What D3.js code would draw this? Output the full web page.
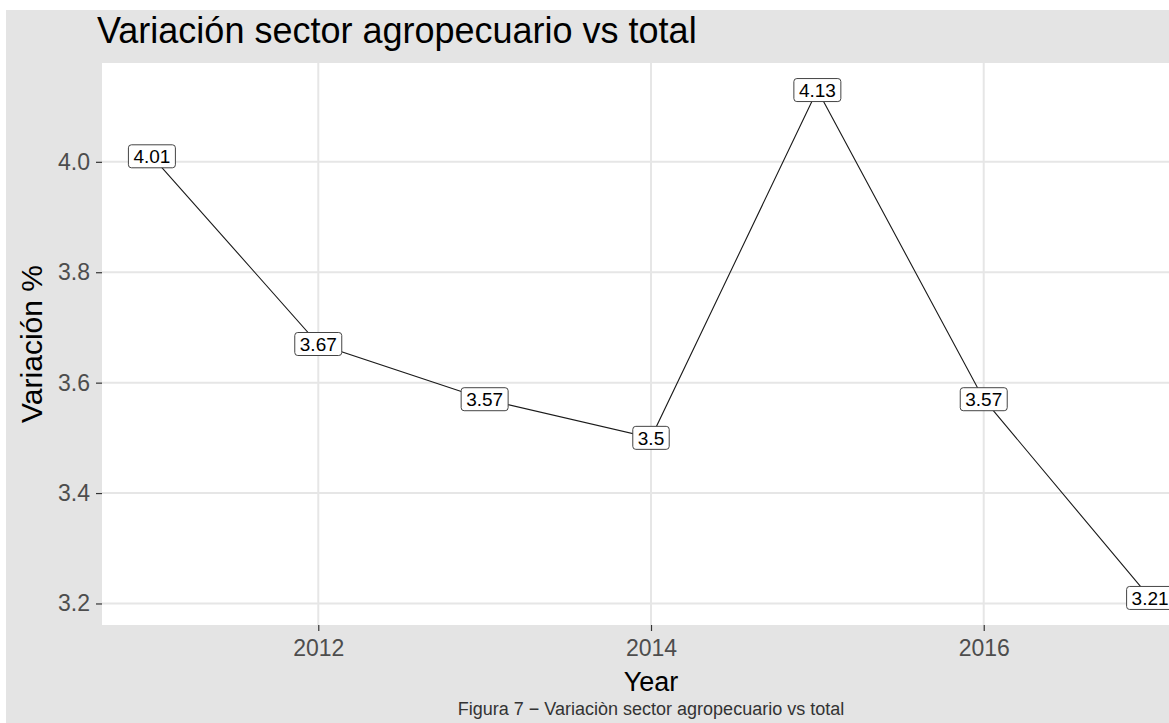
<!DOCTYPE html>
<html>
<head>
<meta charset="utf-8">
<script src="https://cdn.jsdelivr.net/npm/d3@7"></script>
<style>
  body { margin: 0; background: #fff; }
  text { font-family: Arial, "Liberation Sans", sans-serif; }
</style>
</head>
<body>
<div id="chart"></div>
<script>
// data
const years = [2011, 2012, 2013, 2014, 2015, 2016, 2017];
const variacion = [4.01, 3.67, 3.57, 3.5, 4.13, 3.57, 3.21];
const labels = ["4.01", "3.67", "3.57", "3.5", "4.13", "3.57", "3.21"];
const xTicks = [2012, 2014, 2016];
const yTicks = [3.2, 3.4, 3.6, 3.8, 4.0];

const width = 1169, height = 723;
// panel runs off the right edge of the image, like the original
const panel = { left: 102, right: 1200, top: 63, bottom: 625 };

const svg = d3.select("#chart")
  .append("svg")
    .attr("width", width)
    .attr("height", height);

// grey plot background
svg.append("rect")
  .attr("x", 6).attr("y", 10)
  .attr("width", width - 6).attr("height", height - 10)
  .attr("fill", "#e4e4e4");

const x = d3.scaleLinear().domain([2010.7, 2017.3]).range([panel.left, panel.right]);
const y = d3.scaleLinear().domain([3.161, 4.179]).range([panel.bottom, panel.top]);

// white panel
svg.append("rect")
  .attr("x", panel.left).attr("y", panel.top)
  .attr("width", panel.right - panel.left)
  .attr("height", panel.bottom - panel.top)
  .attr("fill", "#fff");

// grid
svg.append("g")
  .selectAll("line")
  .data(yTicks)
  .join("line")
    .attr("x1", panel.left).attr("x2", panel.right)
    .attr("y1", d => y(d)).attr("y2", d => y(d))
    .attr("stroke", "#e6e6e6")
    .attr("stroke-width", 2);

svg.append("g")
  .selectAll("line")
  .data(xTicks)
  .join("line")
    .attr("y1", panel.top).attr("y2", panel.bottom)
    .attr("x1", d => x(d)).attr("x2", d => x(d))
    .attr("stroke", "#e6e6e6")
    .attr("stroke-width", 2);

// axes
const xAxis = svg.append("g")
  .attr("transform", `translate(0,${panel.bottom})`)
  .call(d3.axisBottom(x).tickValues(xTicks).tickFormat(d3.format("d")).tickSize(6).tickPadding(5));
const yAxis = svg.append("g")
  .attr("transform", `translate(${panel.left},0)`)
  .call(d3.axisLeft(y).tickValues(yTicks).tickFormat(d3.format(".1f")).tickSize(6).tickPadding(6));

[xAxis, yAxis].forEach(g => {
  g.select(".domain").remove();
  g.selectAll(".tick line").attr("stroke", "#333").attr("stroke-width", 1.2);
  g.selectAll(".tick text")
    .attr("fill", "#4d4d4d")
    .style("font-size", "23px")
    .style("font-family", "Arial, 'Liberation Sans', sans-serif");
});
xAxis.selectAll(".tick text").attr("dy", "0.85em");

// line
const line = d3.line()
  .x((d, i) => x(years[i]))
  .y(d => y(d));

svg.append("path")
  .datum(variacion)
  .attr("d", line)
  .attr("fill", "none")
  .attr("stroke", "#1a1a1a")
  .attr("stroke-width", 1.1);

// boxed labels (geom_label style)
const lab = svg.append("g")
  .selectAll("g")
  .data(variacion)
  .join("g")
    .attr("transform", (d, i) => `translate(${x(years[i])},${y(d)})`);

lab.append("rect").attr("class", "box");
lab.append("text")
  .attr("text-anchor", "middle")
  .attr("dy", "0.36em")
  .style("font-size", "19px")
  .attr("fill", "#000")
  .text((d, i) => labels[i]);

lab.each(function () {
  const g = d3.select(this);
  const bb = g.select("text").node().getBBox();
  const padX = 5, h = 23;
  g.select("rect")
    .attr("x", -bb.width / 2 - padX)
    .attr("y", -h / 2)
    .attr("width", bb.width + padX * 2)
    .attr("height", h)
    .attr("rx", 3).attr("ry", 3)
    .attr("fill", "#fff")
    .attr("stroke", "#444")
    .attr("stroke-width", 1);
});

// titles
svg.append("text")
  .attr("x", 97).attr("y", 43)
  .style("font-size", "36px")
  .attr("fill", "#000")
  .text("Variación sector agropecuario vs total");

svg.append("text")
  .attr("x", (panel.left + panel.right) / 2).attr("y", 691)
  .attr("text-anchor", "middle")
  .style("font-size", "27px")
  .attr("fill", "#000")
  .text("Year");

svg.append("text")
  .attr("transform", `translate(42,${(panel.top + panel.bottom) / 2}) rotate(-90)`)
  .attr("text-anchor", "middle")
  .style("font-size", "30px")
  .attr("fill", "#000")
  .text("Variación %");

svg.append("text")
  .attr("x", (panel.left + panel.right) / 2).attr("y", 715)
  .attr("text-anchor", "middle")
  .style("font-size", "18px")
  .attr("fill", "#333")
  .text("Figura 7 − Variaciòn sector agropecuario vs total");
</script>
</body>
</html>
